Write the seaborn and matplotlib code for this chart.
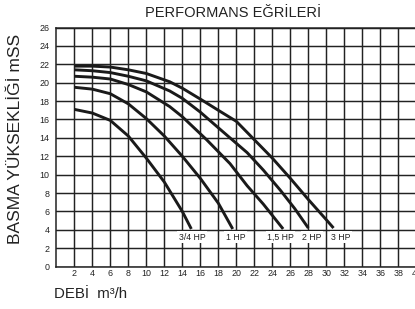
import numpy as np
import pandas as pd
import matplotlib
matplotlib.use('Agg')
import matplotlib.pyplot as plt
import seaborn as sns

# curves (debi m3/h, basma mSS)
hp075_x = [2, 4, 6, 8, 10, 12, 14, 15.0]
hp075_y = [17.1, 16.7, 15.9, 14.2, 11.8, 9.2, 6.0, 4.1]

hp1_x = [2, 4, 6, 8, 10, 12, 14, 16, 18, 19.6]
hp1_y = [19.5, 19.3, 18.8, 17.7, 16.1, 14.2, 12.0, 9.6, 6.9, 4.1]

hp15_x = [2, 4, 6, 8, 10, 12.6, 14, 16.7, 19.3, 21.2, 23, 25.2]
hp15_y = [20.7, 20.6, 20.4, 19.8, 19.0, 17.4, 16.3, 13.8, 11.2, 8.8, 6.8, 4.1]

hp2_x = [2, 4, 6, 8, 10, 12.6, 14, 16, 18, 19.3, 21.2, 23, 24.9, 26.5, 28.0]
hp2_y = [21.4, 21.3, 21.1, 20.7, 20.2, 19.1, 18.3, 16.8, 15.1, 14.0, 12.4, 10.5, 8.3, 6.3, 4.2]

hp3_x = [2, 4, 6, 8, 10, 12.6, 14, 16.2, 18, 20, 21.9, 24, 26, 28, 30, 30.8]
hp3_y = [21.8, 21.8, 21.7, 21.4, 21.0, 20.1, 19.4, 18.1, 17.0, 15.8, 13.9, 11.8, 9.6, 7.3, 5.1, 4.2]

curve_labels = ['3/4 HP', '1 HP', '1,5 HP', '2 HP', '3 HP']
label_x = [15.1, 19.9, 24.9, 28.4, 31.6]
label_y = 3.2

x_ticks = list(range(2, 41, 2))
y_ticks = list(range(0, 27, 2))

sns.set_style('white')
plt.rcParams['font.family'] = ['Liberation Sans', 'DejaVu Sans']

fig = plt.figure(figsize=(4.15, 3.09), dpi=100)
ax = fig.add_axes([0.1357, 0.137, 0.8675, 0.774])

curves = [(hp075_x, hp075_y), (hp1_x, hp1_y), (hp15_x, hp15_y),
          (hp2_x, hp2_y), (hp3_x, hp3_y)]
for cx, cy in curves:
    sns.lineplot(x=cx, y=cy, ax=ax, color='#1a1a1a', lw=2.1,
                 sort=False, estimator=None, solid_capstyle='butt')

for lab, lx in zip(curve_labels, label_x):
    ax.text(lx, label_y, lab, ha='center', va='center', fontsize=6.3,
            color='#222222', bbox=dict(fc='white', ec='none', pad=1.0))

ax.set_xlim(0, 40)
ax.set_ylim(0, 26)
ax.set_xticks(x_ticks)
ax.set_yticks(y_ticks)
ax.tick_params(length=0, labelsize=6.4, colors='#222222')
ax.tick_params(axis='x', pad=1.5)
ax.tick_params(axis='y', pad=5)
ax.grid(True, color='#222222', lw=1.05)
ax.set_axisbelow(True)
for s in ax.spines.values():
    s.set_color('#222222')
    s.set_linewidth(1.1)

fig.text(0.562, 0.958, 'PERFORMANS EĞRİLERİ', ha='center', va='center',
         fontsize=10.5, color='#222222')
fig.text(0.038, 0.55, 'BASMA YÜKSEKLİĞİ mSS', rotation=90, ha='center',
         va='center', fontsize=12.5, color='#222222')
fig.text(0.13, 0.048, 'DEBİ  m³/h', ha='left', va='center',
         fontsize=10.8, color='#222222')

fig.savefig('out.png', dpi=100)
